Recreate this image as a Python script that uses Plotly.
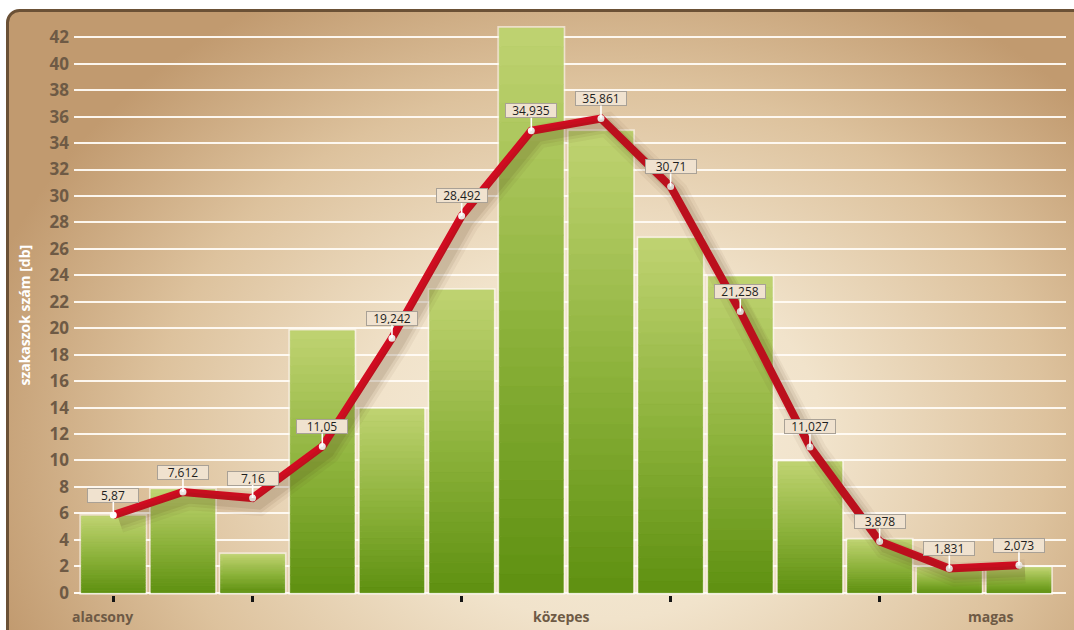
import base64
import plotly.graph_objects as go

# Histogram bars (segment counts per class) and the smoothed curve drawn over them
bar_values = [5.8, 7.8, 2.9, 19.8, 13.9, 22.9, 42.7, 34.9, 26.8, 23.9, 9.9, 4.0, 1.9, 1.9]
line_values = [5.87, 7.612, 7.16, 11.05, 19.242, 28.492, 34.935, 35.861,
               30.71, 21.258, 11.027, 3.878, 1.831, 2.073]
x_pos = list(range(len(bar_values)))
x_tick_positions = [0, 2, 5, 8, 11]
y_tick_values = list(range(0, 43, 2))
axis_words = ["alacsony", "közepes", "magas"]
axis_word_paper_x = [0.029, 0.491, 0.924]
y_title = "szakaszok szám [db]"

W, H = 1074, 630
M_L, M_R, M_T, M_B = 74, 8, 18, 35
X_RANGE = [-0.564, 13.675]
Y_RANGE = [-0.174, 43.46]
TEXT_BROWN = "#6e5a45"
RED = "#d80b22"

# Panel background: warm radial gradient with a dark brown rounded frame
svg = f"""<svg xmlns='http://www.w3.org/2000/svg' width='{W}' height='{H}' viewBox='0 0 {W} {H}'>
<defs>
<radialGradient id='g' gradientUnits='userSpaceOnUse' cx='600' cy='440' r='640'
 gradientTransform='translate(600 440) scale(1 0.8) translate(-600 -440)'>
<stop offset='0' stop-color='#f7eedd'/>
<stop offset='0.35' stop-color='#f1e3cb'/>
<stop offset='0.7' stop-color='#ddc29d'/>
<stop offset='1' stop-color='#c19a6f'/>
</radialGradient>
</defs>
<rect x='0' y='0' width='{W}' height='{H}' fill='#ffffff'/>
<rect x='7.5' y='10.5' width='1110' height='700' rx='12' ry='12' fill='url(#g)' stroke='#6b5136' stroke-width='3'/>
</svg>"""
bg_src = "data:image/svg+xml;base64," + base64.b64encode(svg.encode("utf-8")).decode("ascii")

pw = W - M_L - M_R
ph = H - M_T - M_B

fig = go.Figure()

# underlay bars: soft light halo around each column
fig.add_trace(go.Bar(
    x=x_pos, y=bar_values,
    marker=dict(color="#8db23c", line=dict(color="rgba(255,251,243,0.6)", width=4)),
    hoverinfo="skip", showlegend=False,
))

# vertical gradient on each column, built from stacked slices of its own value
N = 30
c_bot = (94, 144, 16)
c_mid = (143, 180, 62)
c_top = (192, 211, 114)


def mix(a, b, t):
    return tuple(round(a[i] + (b[i] - a[i]) * t) for i in range(3))


for k in range(N):
    f = (k + 0.5) / N
    if f < 0.5:
        c = mix(c_bot, c_mid, f / 0.5)
    else:
        c = mix(c_mid, c_top, (f - 0.5) / 0.5)
    col = "rgb(%d,%d,%d)" % c
    fig.add_trace(go.Bar(
        x=x_pos,
        y=[v / N for v in bar_values],
        base=[v * k / N for v in bar_values],
        marker=dict(color=col, line=dict(color=col, width=0.6)),
        hoverinfo="skip", showlegend=False,
    ))

# soft drop shadow of the curve on offset axes
for w, a in [(24, 0.05), (17, 0.07), (11, 0.09)]:
    fig.add_trace(go.Scatter(
        x=x_pos, y=line_values, mode="lines", xaxis="x2", yaxis="y2",
        line=dict(color=f"rgba(70,40,10,{a})", width=w),
        hoverinfo="skip", showlegend=False,
    ))

# the curve itself
fig.add_trace(go.Scatter(
    x=x_pos, y=line_values, mode="lines+markers",
    line=dict(color=RED, width=8),
    marker=dict(color="white", size=7, line=dict(width=0)),
    hoverinfo="skip", showlegend=False,
))

annotations = []
for xi, v in zip(x_pos, line_values):
    annotations.append(dict(
        x=xi, y=v, xref="x", yref="y",
        text=str(v).replace(".", ","),
        showarrow=True, arrowhead=0, arrowwidth=1.6, arrowcolor="white",
        ax=0, ay=-20,
        font=dict(family="Open Sans", size=12, color="#1e1e1e"),
        bgcolor="#f0e2cf", bordercolor="#a9a196", borderwidth=1, borderpad=1,
        width=48, height=11,
    ))

for word, px in zip(axis_words, axis_word_paper_x):
    annotations.append(dict(
        x=px, y=-0.037, xref="paper", yref="paper", text=f"<b>{word}</b>",
        showarrow=False, xanchor="center", yanchor="middle",
        font=dict(family="Open Sans", size=14, color=TEXT_BROWN),
    ))

annotations.append(dict(
    x=-0.0494, y=0.486, xref="paper", yref="paper", text=f"<b>{y_title}</b>",
    textangle=-90, showarrow=False, xanchor="center", yanchor="middle",
    font=dict(family="Open Sans", size=14, color="white"),
))

fig.update_layout(
    width=W, height=H,
    margin=dict(l=M_L, r=M_R, t=M_T, b=M_B, pad=0),
    paper_bgcolor="white",
    plot_bgcolor="rgba(0,0,0,0)",
    barmode="overlay",
    bargap=0.081,
    showlegend=False,
    images=[dict(
        source=bg_src, xref="paper", yref="paper",
        x=-M_L / pw, y=1 + M_T / ph, sizex=W / pw, sizey=H / ph,
        xanchor="left", yanchor="top", sizing="stretch", layer="below",
    )],
    xaxis=dict(
        range=X_RANGE, tickvals=x_tick_positions, showticklabels=False,
        ticks="outside", ticklen=6, tickwidth=2.5, tickcolor="#151515",
        showgrid=False, zeroline=False, showline=False, fixedrange=True,
    ),
    yaxis=dict(
        range=Y_RANGE, tickvals=y_tick_values,
        tickfont=dict(family="Open Sans", size=17, color=TEXT_BROWN, weight="bold"),
        ticklabelstandoff=4,
        showgrid=True, gridcolor="rgba(255,251,244,0.95)", gridwidth=1.6,
        zeroline=True, zerolinecolor="rgba(255,251,244,1)", zerolinewidth=2,
        showline=False, ticks="", fixedrange=True,
    ),
    xaxis2=dict(range=[X_RANGE[0] - 0.086, X_RANGE[1] - 0.086], overlaying="x",
                visible=False, fixedrange=True),
    yaxis2=dict(range=[Y_RANGE[0] + 0.45, Y_RANGE[1] + 0.45], overlaying="y",
                visible=False, fixedrange=True),
    annotations=annotations,
)

fig.write_html("out.html")
